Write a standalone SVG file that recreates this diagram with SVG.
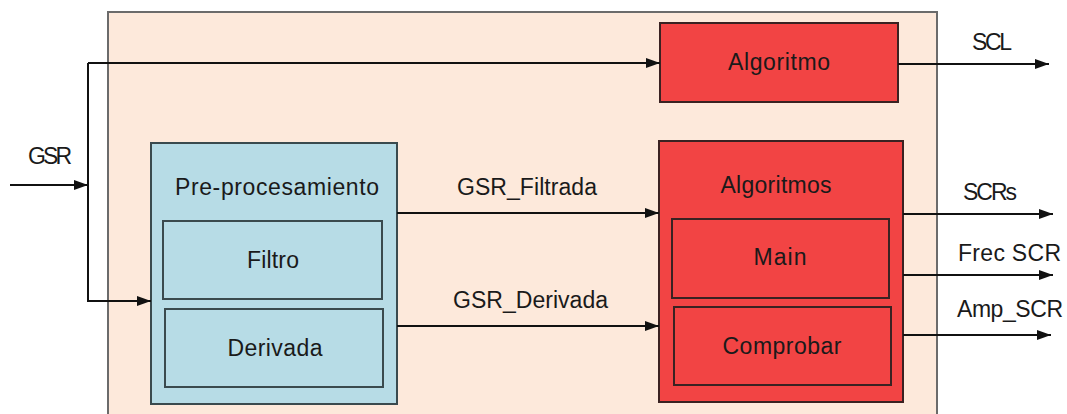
<svg xmlns="http://www.w3.org/2000/svg" width="1067" height="414" viewBox="0 0 1067 414">
<style>
text{font-family:"Liberation Sans",Arial,sans-serif;font-size:23px;fill:#1a1a1a}
.outer{fill:#fde9db;stroke:#6b6b6b;stroke-width:2}
.blue{fill:#b7dce6;stroke:#3a4a4e;stroke-width:2}
.red{fill:#f24444;stroke:#3a2222;stroke-width:2}
.con{stroke:#111;stroke-width:2;fill:none}
</style>
<defs>
<marker id="ah" viewBox="0 0 14 10" refX="14" refY="5" markerWidth="14" markerHeight="10" markerUnits="userSpaceOnUse" orient="auto">
<path d="M0,0 L14,5 L0,10 z" fill="#111"/>
</marker>
</defs>
<rect width="1067" height="414" fill="#fff"/>
<g id="outer"><rect class="outer" x="108" y="12" width="829" height="420"/></g>
<g id="preproc">
<rect class="blue" x="151" y="143" width="246" height="261"/>
<text x="277" y="195" text-anchor="middle" textLength="204">Pre-procesamiento</text>
</g>
<g id="filtro">
<rect class="blue" x="163" y="221" width="219" height="78"/>
<text x="273" y="268" text-anchor="middle" textLength="52">Filtro</text>
</g>
<g id="derivada">
<rect class="blue" x="165" y="309" width="218" height="78"/>
<text x="275" y="356" text-anchor="middle" textLength="95">Derivada</text>
</g>
<g id="algoritmo">
<rect class="red" x="660" y="23" width="238" height="79"/>
<text x="779" y="70" text-anchor="middle" textLength="102">Algoritmo</text>
</g>
<g id="algoritmos">
<rect class="red" x="659" y="141" width="244" height="261"/>
<text x="776" y="193" text-anchor="middle" textLength="111">Algoritmos</text>
</g>
<g id="main">
<rect class="red" x="672" y="219" width="217" height="79"/>
<text x="780" y="265" text-anchor="middle" textLength="53">Main</text>
</g>
<g id="comprobar">
<rect class="red" x="674" y="307" width="217" height="78"/>
<text x="782" y="354" text-anchor="middle" textLength="119">Comprobar</text>
</g>
<g id="connectors">
<path class="con" d="M10,185 H88" marker-end="url(#ah)"/>
<path class="con" d="M88,63 H660" marker-end="url(#ah)"/>
<path class="con" d="M88,63 V301 H151" marker-end="url(#ah)"/>
<path class="con" d="M397,213 H659" marker-end="url(#ah)"/>
<path class="con" d="M397,326 H659" marker-end="url(#ah)"/>
<path class="con" d="M898,64 H1049" marker-end="url(#ah)"/>
<path class="con" d="M903,214 H1053" marker-end="url(#ah)"/>
<path class="con" d="M903,275 H1053" marker-end="url(#ah)"/>
<path class="con" d="M903,335 H1051" marker-end="url(#ah)"/>
</g>
<g id="labels">
<text x="28" y="164" textLength="44">GSR</text>
<text x="457" y="195" textLength="140">GSR_Filtrada</text>
<text x="453" y="308" textLength="155">GSR_Derivada</text>
<text x="972" y="50" textLength="40">SCL</text>
<text x="963" y="200" textLength="54">SCRs</text>
<text x="958" y="261" textLength="103">Frec SCR</text>
<text x="957" y="317" textLength="106">Amp_SCR</text>
</g>
</svg>
